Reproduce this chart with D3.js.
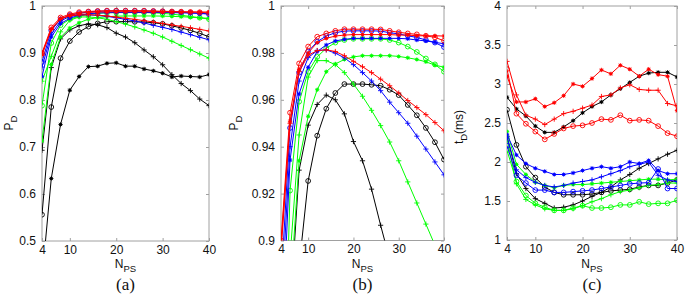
<!DOCTYPE html>
<html>
<head>
<meta charset="utf-8">
<script src="https://cdn.jsdelivr.net/npm/d3@7"></script>
<style>
  body { margin: 0; background: #fff; }
  svg { display: block; }
  text { fill: #111; }
</style>
</head>
<body>
<svg id="chart" width="685" height="296"></svg>
<script>
// N_PS values on the x axis
var nps = [4, 6, 8, 10, 12, 14, 16, 18, 20, 22, 24, 26, 28, 30, 32, 34, 36, 38, 40];

// P_D, used by panel (a) and zoomed in panel (b)
var pdRedO    = [0.900, 0.9545, 0.9755, 0.9827, 0.9869, 0.9883, 0.9894, 0.9901, 0.9901, 0.9901, 0.9901, 0.9900, 0.9894, 0.9888, 0.9883, 0.9879, 0.9873, 0.9866, 0.9852];
var pdRedStar = [0.898, 0.9509, 0.973, 0.980, 0.9844, 0.9862, 0.9872, 0.9876, 0.9878, 0.9878, 0.9878, 0.9878, 0.9878, 0.9876, 0.9876, 0.9873, 0.9873, 0.9873, 0.9872];
var pdRedPlus = [0.895, 0.950, 0.972, 0.979, 0.9810, 0.9813, 0.9806, 0.9788, 0.9764, 0.9741, 0.9716, 0.9688, 0.966, 0.9629, 0.9597, 0.9567, 0.9537, 0.9503, 0.9468];
var pdBlueO    = [0.881, 0.948, 0.9716, 0.9806, 0.9848, 0.9872, 0.9886, 0.9893, 0.9894, 0.9894, 0.9894, 0.9893, 0.9886, 0.9881, 0.9873, 0.9866, 0.9855, 0.9844, 0.9825];
var pdBlueStar = [0.850, 0.9343, 0.9625, 0.9739, 0.9806, 0.9834, 0.9851, 0.9858, 0.9862, 0.9862, 0.9862, 0.9862, 0.9862, 0.9862, 0.9860, 0.9855, 0.9851, 0.9845, 0.9839];
var pdBluePlus = [0.870, 0.940, 0.968, 0.978, 0.9810, 0.9813, 0.9799, 0.9779, 0.975, 0.9716, 0.968, 0.9639, 0.959, 0.9545, 0.950, 0.9445, 0.939, 0.9335, 0.928];
var pdGreenO    = [0.788, 0.9213, 0.9592, 0.972, 0.9783, 0.982, 0.9844, 0.9855, 0.986, 0.986, 0.986, 0.986, 0.9855, 0.9844, 0.9827, 0.9804, 0.9776, 0.9751, 0.972];
var pdGreenStar = [0.713, 0.876, 0.934, 0.953, 0.9643, 0.972, 0.9753, 0.9772, 0.9783, 0.9788, 0.9788, 0.9788, 0.9788, 0.9785, 0.9779, 0.9772, 0.9762, 0.9748, 0.9739];
var pdGreenPlus = [0.840, 0.893, 0.945, 0.9697, 0.9767, 0.9767, 0.975, 0.9716, 0.9667, 0.9615, 0.9555, 0.949, 0.942, 0.934, 0.925, 0.916, 0.907, 0.898, 0.889];
var pdBlackO    = [0.556, 0.785, 0.889, 0.9254, 0.9447, 0.9562, 0.9629, 0.9667, 0.9667, 0.9667, 0.9664, 0.966, 0.9643, 0.962, 0.9578, 0.9534, 0.948, 0.9419, 0.9345];
var pdBlackStar = [0.420, 0.633, 0.748, 0.821, 0.850, 0.871, 0.872, 0.878, 0.879, 0.872, 0.872, 0.866, 0.862, 0.857, 0.849, 0.851, 0.850, 0.849, 0.854];
var pdBlackPlus = [0.693, 0.869, 0.930, 0.9492, 0.958, 0.962, 0.960, 0.954, 0.9422, 0.934, 0.9219, 0.9065, 0.892, 0.875, 0.854, 0.835, 0.820, 0.802, 0.788];

// t_D in ms, panel (c)
var tdRedO    = [3.19, 2.62, 2.49, 2.39, 2.29, 2.36, 2.43, 2.46, 2.47, 2.50, 2.55, 2.54, 2.60, 2.53, 2.54, 2.53, 2.46, 2.37, 2.33];
var tdRedStar = [3.10, 2.77, 2.77, 2.81, 2.71, 2.76, 2.85, 3.00, 2.97, 3.07, 3.18, 3.13, 3.24, 3.19, 3.10, 3.19, 3.12, 3.10, 2.66];
var tdRedPlus = [3.29, 2.86, 2.60, 2.55, 2.48, 2.55, 2.62, 2.65, 2.69, 2.73, 2.84, 2.86, 2.95, 2.99, 2.93, 2.92, 2.92, 2.75, 2.72];
var tdBlueO    = [2.21, 1.83, 1.73, 1.64, 1.64, 1.61, 1.61, 1.62, 1.63, 1.64, 1.66, 1.68, 1.70, 1.72, 1.73, 1.735, 1.91, 1.66, 1.66];
var tdBlueStar = [2.35, 2.09, 1.98, 1.92, 1.88, 1.84, 1.84, 1.86, 1.89, 1.92, 1.94, 1.92, 1.94, 2.00, 1.98, 2.02, 1.89, 1.85, 1.85];
var tdBluePlus = [2.32, 1.90, 1.80, 1.74, 1.70, 1.68, 1.70, 1.73, 1.75, 1.77, 1.81, 1.85, 1.89, 1.94, 1.97, 2.00, 1.83, 1.77, 1.75];
var tdGreenO    = [2.15, 1.75, 1.57, 1.47, 1.42, 1.38, 1.38, 1.41, 1.44, 1.41, 1.41, 1.42, 1.45, 1.45, 1.49, 1.46, 1.47, 1.47, 1.51];
var tdGreenStar = [2.39, 1.97, 1.84, 1.74, 1.70, 1.67, 1.70, 1.71, 1.71, 1.72, 1.73, 1.74, 1.75, 1.76, 1.77, 1.78, 1.78, 1.77, 1.78];
var tdGreenPlus = [2.30, 1.72, 1.52, 1.45, 1.40, 1.38, 1.38, 1.40, 1.44, 1.49, 1.53, 1.58, 1.62, 1.64, 1.67, 1.70, 1.71, 1.73, 1.73];
var tdBlackO    = [2.67, 2.22, 1.94, 1.80, 1.68, 1.61, 1.58, 1.58, 1.58, 1.59, 1.61, 1.63, 1.64, 1.65, 1.68, 1.70, 1.70, 1.73, 1.77];
var tdBlackStar = [2.83, 2.68, 2.59, 2.46, 2.38, 2.38, 2.45, 2.53, 2.63, 2.71, 2.77, 2.86, 2.94, 3.02, 3.10, 3.14, 3.15, 3.15, 3.09];
var tdBlackPlus = [2.33, 1.85, 1.66, 1.53, 1.47, 1.41, 1.42, 1.45, 1.50, 1.56, 1.61, 1.68, 1.77, 1.84, 1.92, 1.98, 2.04, 2.10, 2.15];

var xTicks = [4, 10, 20, 30, 40];
var pdTicksA = [0.5, 0.6, 0.7, 0.8, 0.9, 1];
var pdTicksB = [0.9, 0.92, 0.94, 0.96, 0.98, 1];
var tdTicks = [1, 1.5, 2, 2.5, 3, 3.5, 4];

// drawing order: black first, red on top
var pdSeries = [
    { c: "#000", m: "o", v: pdBlackO }, { c: "#000", m: "*", v: pdBlackStar }, { c: "#000", m: "+", v: pdBlackPlus },
    { c: "#00ff00", m: "o", v: pdGreenO }, { c: "#00ff00", m: "*", v: pdGreenStar }, { c: "#00ff00", m: "+", v: pdGreenPlus },
    { c: "#0000ff", m: "o", v: pdBlueO }, { c: "#0000ff", m: "*", v: pdBlueStar }, { c: "#0000ff", m: "+", v: pdBluePlus },
    { c: "#ff0000", m: "o", v: pdRedO }, { c: "#ff0000", m: "*", v: pdRedStar }, { c: "#ff0000", m: "+", v: pdRedPlus }
];
var tdSeries = [
    { c: "#000", m: "o", v: tdBlackO }, { c: "#000", m: "*", v: tdBlackStar }, { c: "#000", m: "+", v: tdBlackPlus },
    { c: "#00ff00", m: "o", v: tdGreenO }, { c: "#00ff00", m: "*", v: tdGreenStar }, { c: "#00ff00", m: "+", v: tdGreenPlus },
    { c: "#0000ff", m: "o", v: tdBlueO }, { c: "#0000ff", m: "*", v: tdBlueStar }, { c: "#0000ff", m: "+", v: tdBluePlus },
    { c: "#ff0000", m: "o", v: tdRedO }, { c: "#ff0000", m: "*", v: tdRedStar }, { c: "#ff0000", m: "+", v: tdRedPlus }
];

var panels = [
    { id: "a", l: 42, r: 209, t: 6, b: 241, dom: [0.5, 1], ticks: pdTicksA, series: pdSeries, yl: "P", ys: "D", ylx: 13, yly: 123, tag: "(a)" },
    { id: "b", l: 281, r: 444, t: 6, b: 240.5, dom: [0.9, 1], ticks: pdTicksB, series: pdSeries, yl: "P", ys: "D", ylx: 238, yly: 123, tag: "(b)" },
    { id: "c", l: 507, r: 677, t: 6, b: 240, dom: [1, 4], ticks: tdTicks, series: tdSeries, yl: "t", ys: "D", yrest: "(ms)", ylx: 463, yly: 127, tag: "(c)" }
];

var svg = d3.select("#chart");
var frameCol = "#a0a0a0";
var sans = "Arial, 'Liberation Sans', sans-serif";
var serif = "'Liberation Serif', 'Times New Roman', serif";

panels.forEach(function (p) {
    var x = d3.scaleLinear().domain([4, 40]).range([p.l, p.r]);
    var y = d3.scaleLinear().domain(p.dom).range([p.b, p.t]);
    var g = svg.append("g");
    var fmt = function (d) { return String(+d.toFixed(2)); };

    // axes with inside ticks, MATLAB box style
    var ax = [
        d3.axisBottom(x).tickValues(xTicks).tickSizeInner(-3).tickSizeOuter(0).tickPadding(4),
        d3.axisTop(x).tickValues(xTicks).tickSizeInner(-3).tickSizeOuter(0).tickFormat(""),
        d3.axisLeft(y).tickValues(p.ticks).tickSizeInner(-3).tickSizeOuter(0).tickPadding(6).tickFormat(fmt),
        d3.axisRight(y).tickValues(p.ticks).tickSizeInner(-3).tickSizeOuter(0).tickFormat("")
    ];
    var pos = ["translate(0," + p.b + ")", "translate(0," + p.t + ")", "translate(" + p.l + ",0)", "translate(" + p.r + ",0)"];
    ax.forEach(function (a, i) {
        var ag = g.append("g").attr("transform", pos[i]).call(a);
        ag.select(".domain").remove();
        ag.selectAll("line").attr("stroke", frameCol);
        ag.selectAll("text").attr("font-size", 12).attr("fill", "#111").style("font-family", sans);
    });

    g.append("rect").attr("x", p.l).attr("y", p.t).attr("width", p.r - p.l).attr("height", p.b - p.t)
        .attr("fill", "none").attr("stroke", frameCol).attr("stroke-width", 1);

    svg.append("clipPath").attr("id", "clip" + p.id).append("rect")
        .attr("x", p.l).attr("y", p.t).attr("width", p.r - p.l).attr("height", p.b - p.t);
    var plot = g.append("g").attr("clip-path", "url(#clip" + p.id + ")");

    var line = d3.line().x(function (d, i) { return x(nps[i]); }).y(function (d) { return y(d); });

    p.series.forEach(function (s) {
        plot.append("path").datum(s.v).attr("d", line)
            .attr("fill", "none").attr("stroke", s.c).attr("stroke-width", 1);
        var mk = plot.selectAll(null).data(s.v).enter().append("g")
            .attr("transform", function (d, i) { return "translate(" + x(nps[i]) + "," + y(d) + ")"; });
        if (s.m === "o") {
            mk.append("circle").attr("r", 2.4).attr("fill", "none").attr("stroke", s.c).attr("stroke-width", 0.9);
        } else if (s.m === "*") {
            mk.append("circle").attr("r", 1.5).attr("fill", s.c);
            mk.append("path").attr("d", "M-2.2,0H2.2M0,-2.2V2.2M-1.6,-1.6L1.6,1.6M-1.6,1.6L1.6,-1.6")
                .attr("stroke", s.c).attr("stroke-width", 0.8);
        } else {
            mk.append("path").attr("d", "M-2.6,0H2.6M0,-2.6V2.6").attr("stroke", s.c).attr("stroke-width", 0.9);
        }
    });

    // x label N_PS
    var xl = svg.append("text").attr("x", (p.l + p.r) / 2).attr("y", 268).attr("text-anchor", "middle")
        .attr("font-size", 12).style("font-family", sans);
    xl.append("tspan").text("N");
    xl.append("tspan").attr("dy", 4).attr("font-size", 9.5).text("PS");

    // y label
    var yl = svg.append("text").attr("transform", "translate(" + p.ylx + "," + p.yly + ") rotate(-90)")
        .attr("text-anchor", "middle").attr("font-size", 12).style("font-family", sans);
    yl.append("tspan").text(p.yl);
    yl.append("tspan").attr("dy", 4).attr("font-size", 9.5).text(p.ys);
    if (p.yrest) yl.append("tspan").attr("dy", -4).attr("font-size", 12).text(p.yrest);

    // panel tag
    svg.append("text").attr("x", (p.l + p.r) / 2).attr("y", 290).attr("text-anchor", "middle")
        .style("font-family", serif).attr("font-size", 17).text(p.tag);
});
</script>
</body>
</html>
